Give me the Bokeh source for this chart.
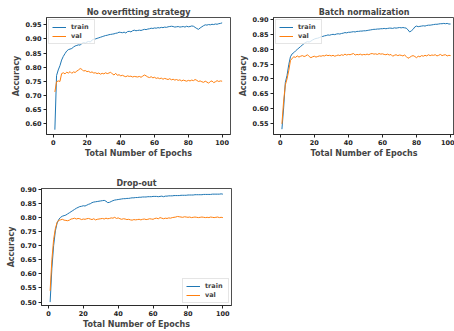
from bokeh.plotting import figure
from bokeh.layouts import column, row
from bokeh.models import Range1d, FixedTicker, PrintfTickFormatter, Legend, LegendItem
from bokeh.embed import file_html
from bokeh.resources import INLINE

epochs = list(range(1, 101))

p1_train = [0.578, 0.770, 0.790, 0.805, 0.825, 0.838, 0.848, 0.857, 0.862, 0.864,
            0.866, 0.871, 0.875, 0.877, 0.879, 0.878, 0.884, 0.887, 0.885, 0.889,
            0.891, 0.889, 0.896, 0.899, 0.900, 0.902, 0.904, 0.906, 0.908, 0.910,
            0.912, 0.913, 0.915, 0.916, 0.917, 0.918, 0.920, 0.921, 0.924, 0.923,
            0.922, 0.924, 0.921, 0.926, 0.927, 0.925, 0.929, 0.931, 0.929, 0.930,
            0.931, 0.930, 0.932, 0.934, 0.933, 0.935, 0.936, 0.938, 0.937, 0.939,
            0.938, 0.940, 0.939, 0.941, 0.940, 0.942, 0.941, 0.943, 0.944, 0.945,
            0.944, 0.942, 0.943, 0.944, 0.942, 0.943, 0.944, 0.942, 0.945, 0.943,
            0.944, 0.946, 0.945, 0.941, 0.937, 0.934, 0.939, 0.943, 0.947, 0.950,
            0.949, 0.951, 0.950, 0.952, 0.951, 0.953, 0.952, 0.954, 0.955, 0.957]
p1_val = [0.712, 0.748, 0.751, 0.749, 0.777, 0.780, 0.776, 0.782, 0.779, 0.784,
          0.778, 0.783, 0.781, 0.786, 0.790, 0.795, 0.792, 0.786, 0.788, 0.784,
          0.785, 0.781, 0.783, 0.779, 0.780, 0.777, 0.779, 0.775, 0.778, 0.776,
          0.780, 0.777, 0.779, 0.782, 0.776, 0.772, 0.778, 0.771, 0.773, 0.769,
          0.771, 0.768, 0.766, 0.769, 0.767, 0.768, 0.765, 0.767, 0.766, 0.765,
          0.767, 0.764, 0.768, 0.772, 0.769, 0.765, 0.763, 0.766, 0.762, 0.764,
          0.760, 0.762, 0.759, 0.761, 0.757, 0.760, 0.758, 0.756, 0.759, 0.755,
          0.757, 0.754, 0.756, 0.753, 0.755, 0.751, 0.754, 0.752, 0.750, 0.753,
          0.751, 0.754, 0.752, 0.756, 0.753, 0.749, 0.751, 0.748, 0.746, 0.750,
          0.747, 0.743, 0.749, 0.751, 0.745, 0.748, 0.752, 0.749, 0.751, 0.750]

p2_train = [0.530, 0.602, 0.688, 0.712, 0.748, 0.775, 0.785, 0.789, 0.795, 0.800,
            0.805, 0.810, 0.815, 0.820, 0.824, 0.826, 0.825, 0.828, 0.832, 0.835,
            0.837, 0.838, 0.840, 0.843, 0.844, 0.846, 0.847, 0.849, 0.848, 0.850,
            0.851, 0.850, 0.852, 0.853, 0.852, 0.854, 0.855, 0.857, 0.856, 0.858,
            0.858, 0.859, 0.860, 0.859, 0.861, 0.861, 0.862, 0.862, 0.863, 0.863,
            0.864, 0.865, 0.866, 0.867, 0.868, 0.868, 0.869, 0.869, 0.870, 0.870,
            0.871, 0.870, 0.871, 0.872, 0.872, 0.871, 0.873, 0.872, 0.873, 0.874,
            0.873, 0.874, 0.873, 0.872, 0.866, 0.859, 0.863, 0.868, 0.876, 0.879,
            0.877, 0.878, 0.879, 0.880, 0.879, 0.881, 0.882, 0.882, 0.883, 0.884,
            0.885, 0.885, 0.886, 0.887, 0.887, 0.888, 0.887, 0.888, 0.886, 0.886]
p2_val = [0.548, 0.625, 0.680, 0.700, 0.728, 0.762, 0.770, 0.775, 0.773, 0.778,
          0.774, 0.777, 0.779, 0.776, 0.778, 0.782, 0.776, 0.772, 0.775, 0.777,
          0.774, 0.776, 0.778, 0.777, 0.779, 0.778, 0.781, 0.779, 0.780, 0.778,
          0.780, 0.777, 0.779, 0.781, 0.779, 0.782, 0.780, 0.784, 0.781, 0.783,
          0.782, 0.784, 0.786, 0.781, 0.783, 0.782, 0.784, 0.781, 0.783, 0.782,
          0.784, 0.782, 0.785, 0.786, 0.784, 0.785, 0.783, 0.786, 0.784, 0.785,
          0.783, 0.782, 0.784, 0.781, 0.783, 0.777, 0.780, 0.782, 0.779, 0.781,
          0.780, 0.778, 0.781, 0.776, 0.770, 0.773, 0.777, 0.779, 0.776, 0.772,
          0.777, 0.775, 0.779, 0.777, 0.780, 0.778, 0.782, 0.779, 0.781, 0.780,
          0.782, 0.778, 0.780, 0.783, 0.779, 0.781, 0.782, 0.778, 0.780, 0.779]

p3_train = [0.500, 0.620, 0.700, 0.752, 0.780, 0.793, 0.800, 0.804, 0.806, 0.808,
            0.812, 0.816, 0.820, 0.824, 0.828, 0.832, 0.835, 0.838, 0.839, 0.841,
            0.840, 0.843, 0.846, 0.848, 0.852, 0.854, 0.855, 0.856, 0.857, 0.858,
            0.859, 0.860, 0.857, 0.852, 0.853, 0.856, 0.859, 0.861, 0.862, 0.863,
            0.864, 0.865, 0.866, 0.866, 0.867, 0.867, 0.868, 0.869, 0.869, 0.870,
            0.870, 0.871, 0.871, 0.872, 0.872, 0.872, 0.873, 0.873, 0.873, 0.874,
            0.874, 0.874, 0.873, 0.874, 0.875, 0.873, 0.875, 0.875, 0.876, 0.876,
            0.876, 0.877, 0.877, 0.877, 0.877, 0.878, 0.878, 0.878, 0.878, 0.879,
            0.879, 0.879, 0.879, 0.880, 0.880, 0.880, 0.880, 0.880, 0.881, 0.881,
            0.881, 0.881, 0.881, 0.882, 0.882, 0.882, 0.882, 0.882, 0.883, 0.882]
p3_val = [0.540, 0.650, 0.722, 0.760, 0.782, 0.790, 0.791, 0.793, 0.790, 0.789,
          0.788, 0.790, 0.794, 0.795, 0.797, 0.794, 0.796, 0.795, 0.792, 0.794,
          0.793, 0.795, 0.796, 0.794, 0.792, 0.795, 0.791, 0.793, 0.794, 0.795,
          0.796, 0.794, 0.797, 0.795, 0.796, 0.798, 0.797, 0.800, 0.796, 0.798,
          0.795, 0.793, 0.795, 0.794, 0.792, 0.793, 0.791, 0.790, 0.792, 0.791,
          0.792, 0.793, 0.791, 0.793, 0.794, 0.792, 0.793, 0.795, 0.794, 0.793,
          0.796, 0.797, 0.795, 0.799, 0.797, 0.795, 0.797, 0.796, 0.798, 0.797,
          0.799, 0.800, 0.801, 0.803, 0.802, 0.801, 0.800, 0.802, 0.801, 0.800,
          0.801, 0.799, 0.800, 0.801, 0.800, 0.799, 0.800, 0.801, 0.800, 0.799,
          0.800, 0.799, 0.801, 0.800, 0.799, 0.800, 0.801, 0.799, 0.800, 0.799]

titles = ["No overfitting strategy", "Batch normalization", "Drop-out"]
x_ticks = [0, 20, 40, 60, 80, 100]
y_ticks_1 = [0.60, 0.65, 0.70, 0.75, 0.80, 0.85, 0.90, 0.95]
y_ticks_2 = [0.55, 0.60, 0.65, 0.70, 0.75, 0.80, 0.85, 0.90]
y_ticks_3 = [0.50, 0.55, 0.60, 0.65, 0.70, 0.75, 0.80, 0.85, 0.90]

BLUE = "#1f77b4"
ORANGE = "#ff7f0e"
FONT = "DejaVu Sans"


def make(title, train, val, yr, yticks, xr, w, h, bl, br, bt, bb, legend_loc):
    p = figure(width=w, height=h, output_backend="svg", toolbar_location=None,
               x_range=Range1d(*xr), y_range=Range1d(*yr),
               min_border_left=bl, min_border_right=br,
               min_border_top=bt, min_border_bottom=bb)
    p.title.text = title
    p.title.text_font = FONT
    p.title.text_font_size = "8px"
    p.title.text_font_style = "bold"
    p.title.align = "center"
    p.title.standoff = 1
    p.title.offset = 0
    p.grid.visible = False
    p.outline_line_color = "#222222"
    p.outline_line_width = 0.8
    for ax in (p.xaxis[0], p.yaxis[0]):
        ax.axis_line_color = "#222222"
        ax.axis_line_width = 0.8
        ax.major_tick_in = 0
        ax.major_tick_out = 3
        ax.major_tick_line_color = "#222222"
        ax.minor_tick_line_color = None
        ax.major_label_text_font = FONT
        ax.major_label_text_font_size = "6.5px"
        ax.major_label_text_font_style = "bold"
        ax.major_label_text_color = "#222222"
        ax.major_label_standoff = 2
        ax.axis_label_text_font = FONT
        ax.axis_label_text_font_size = "8px"
        ax.axis_label_text_font_style = "bold"
        ax.axis_label_standoff = 1
    p.xaxis.ticker = FixedTicker(ticks=x_ticks)
    p.yaxis.ticker = FixedTicker(ticks=yticks)
    p.yaxis.formatter = PrintfTickFormatter(format="%.2f")
    p.xaxis.axis_label = "Total Number of Epochs"
    p.yaxis.axis_label = "Accuracy"
    r1 = p.line(epochs, train, line_color=BLUE, line_width=1)
    r2 = p.line(epochs, val, line_color=ORANGE, line_width=1)
    leg = Legend(items=[LegendItem(label="train", renderers=[r1]),
                        LegendItem(label="val", renderers=[r2])],
                 location=legend_loc)
    leg.label_text_font = FONT
    leg.label_text_font_size = "6.5px"
    leg.label_text_font_style = "bold"
    leg.label_height = 8
    leg.glyph_height = 8
    leg.glyph_width = 14
    leg.label_standoff = 5
    leg.spacing = 1
    leg.padding = 3
    leg.margin = 2
    leg.border_line_color = "#cccccc"
    leg.border_line_width = 0.8
    leg.background_fill_alpha = 0.8
    p.add_layout(leg)
    return p


p1 = make(titles[0], p1_train, p1_val, (0.561, 0.976), y_ticks_1, (-3.95, 104.95),
          236, 165, 46, 6, 15, 31, "top_left")
p2 = make(titles[1], p2_train, p2_val, (0.512, 0.908), y_ticks_2, (-3.95, 102.3),
          218, 165, 31, 0, 17, 22, "top_left")
p3 = make(titles[2], p3_train, p3_val, (0.488, 0.902), y_ticks_3, (-3.95, 104.95),
          236, 166, 41, 5, 23, 20, "bottom_right")

layout = column(row(p1, p2), p3)
open("out.html", "w").write(file_html(layout, INLINE))
